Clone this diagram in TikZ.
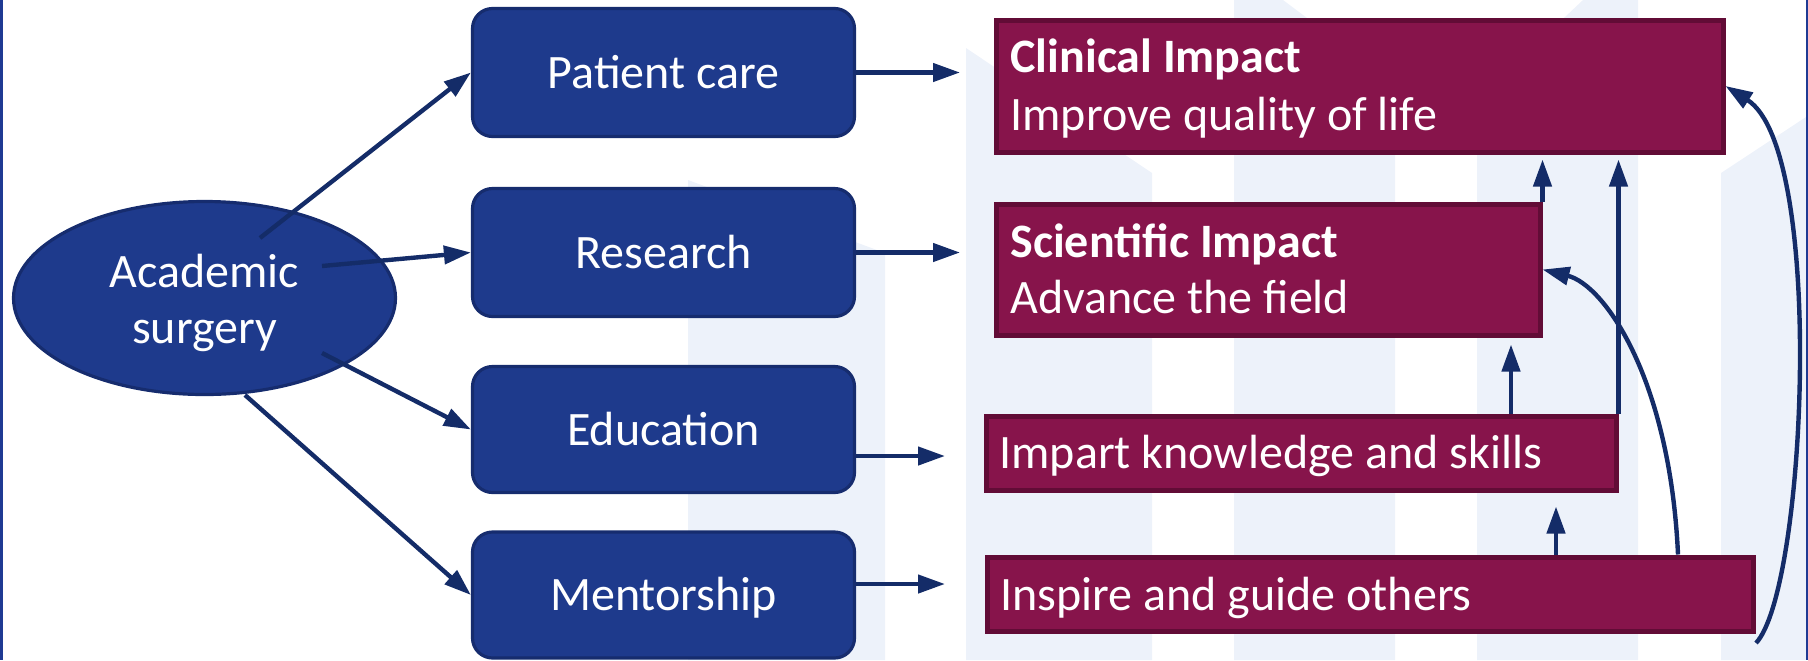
\documentclass[tikz,border=0pt]{standalone}
\usepackage{fontspec}
\setmainfont{Carlito}
\usetikzlibrary{shapes.geometric,arrows.meta}
\definecolor{bluefill}{RGB}{30,58,140}
\definecolor{blueline}{RGB}{22,44,110}
\definecolor{arrowc}{RGB}{20,44,104}
\definecolor{magfill}{RGB}{135,20,75}
\definecolor{magline}{RGB}{98,12,54}
\definecolor{stripe}{RGB}{237,242,250}
\definecolor{framec}{RGB}{31,58,147}
\begin{document}
\begin{tikzpicture}[x=0.5pt,y=-0.5pt,
  txt/.style={text=white,font=\fontsize{24pt}{28pt}\selectfont},
  bluebox/.style={txt,draw=blueline,fill=bluefill,line width=1.6pt,rounded corners=10pt,
    minimum width=191pt,minimum height=64pt,inner sep=0pt,text height=15.5pt,text depth=0pt},
  magbox/.style={draw=magline,fill=magfill,line width=2.5pt,inner sep=0pt},
  mtext/.style={txt,inner sep=0pt,anchor=base west},
  conn/.style={draw=arrowc,line width=2.2pt,-{Triangle[length=13.5pt,width=9pt]}}]
\useasboundingbox (0,0) rectangle (1808,660);
% background stripes
\fill[stripe] (688,660) -- (688,180) -- (885,253) -- (885,660) -- cycle;
\fill[stripe] (966,660) -- (966,48) -- (1152,173) -- (1152,660) -- cycle;
\fill[stripe] (1234,660) -- (1234,0) -- (1283,0) -- (1395,84) -- (1395,660) -- cycle;
\fill[stripe] (1477,660) -- (1477,100) -- (1583,0) -- (1638,0) -- (1638,660) -- cycle;
\fill[stripe] (1721,660) -- (1721,173) -- (1806,117) -- (1806,660) -- cycle;
% frame
\fill[framec] (0,0) rectangle (3,660);
\fill[framec] (1805.5,0) rectangle (1808,660);
% left ellipse
\node[ellipse,draw=blueline,fill=bluefill,line width=1.6pt,minimum width=191pt,
  minimum height=96.5pt,inner sep=0pt] (as) at (204.5,298) {};
\node[txt,align=center,inner sep=0pt,yshift=-2.5pt] (astxt) at (as.center) {Academic\\surgery};
% blue boxes
\node[bluebox] (pc) at (663.5,72.5) {Patient care};
\node[bluebox] (rs) at (663.5,252.5) {Research};
\node[bluebox,minimum height=63pt] (ed) at (663.5,429.5) {Education};
\node[bluebox,minimum height=63pt] (mn) at (663.5,595) {Mentorship};
% magenta boxes
\node[magbox,minimum width=363.5pt,minimum height=66pt] (clin) at (1359.5,86) {};
\node[magbox,minimum width=272pt,minimum height=65.5pt] (sci) at (1268,269.5) {};
\node[magbox,minimum width=315pt,minimum height=37pt] (imp) at (1301,453) {};
\node[magbox,minimum width=383pt,minimum height=37pt] (ins) at (1370,594) {};
\node[mtext] (clin1) at (1010,72) {\bfseries Clinical Impact};
\node[mtext] (clin2) at (1010,130) {Improve quality of life};
\node[mtext] (sci1) at (1010,257) {\bfseries Scientific Impact};
\node[mtext] (sci2) at (1010,313) {Advance the field};
\node[mtext] (imp1) at (999,468) {Impart knowledge and skills};
\node[mtext] (ins1) at (1000,610) {Inspire and guide others};
% coordinates
\coordinate (a1s) at (260,238);
\coordinate (a2s) at (322,266);
\coordinate (a3s) at (322,353);
\coordinate (a4s) at (245,395);
\coordinate (h1e) at (960,72.5);
\coordinate (h2e) at (960,252.5);
\coordinate (h3e) at (945,456);
\coordinate (h4e) at (945,584);
\coordinate (x3) at (1511,0);
\coordinate (x4) at (1556,0);
\coordinate (x5) at (1678,0);
\coordinate (c2s) at (1756,643);
% connectors
\draw[conn] (a1s) -- (pc.west);
\draw[conn] (a2s) -- (rs.west);
\draw[conn] (a3s) -- (ed.west);
\draw[conn] (a4s) -- (mn.west);
\draw[conn] (pc.east) -- (h1e);
\draw[conn] (rs.east) -- (h2e);
\draw[conn] (ed.east |- h3e) -- (h3e);
\draw[conn] (mn.east |- h4e) -- (h4e);
\draw[conn,shorten >=2.5pt] (sci.north east) -- (sci.north east |- clin.south);
\draw[conn,shorten >=2.5pt] (imp.north east) -- (imp.north east |- clin.south);
\draw[conn,shorten >=3.5pt] (x3 |- imp.north) -- (x3 |- sci.south);
\draw[conn,shorten >=7pt] (x4 |- ins.north) -- (x4 |- imp.south);
\draw[conn] (x5 |- ins.north) .. controls (1670,380) and (1605,285) .. (sci.east);
\draw[conn] (c2s) .. controls (1806,590) and (1826,150) .. (clin.east);
\end{tikzpicture}
\end{document}
